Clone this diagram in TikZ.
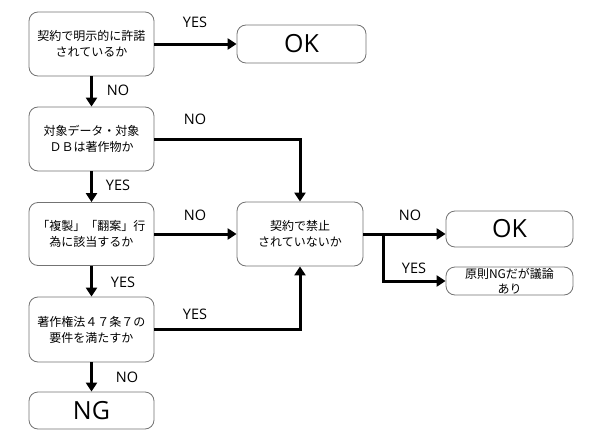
\documentclass[tikz,border=0pt]{standalone}
\usepackage{fontspec}
\setmainfont{Noto Sans CJK JP}
\newfontfamily\latinlab{Open Sans}
\usetikzlibrary{arrows.meta}
\begin{document}
\begin{tikzpicture}[x=1pt,y=-1pt,
  box/.style={draw=black!55, line width=0.8pt, rounded corners=9pt, fill=white, align=center, inner sep=0pt, font=\fontsize{12}{16}\selectfont},
  bigbox/.style={box, font=\latinlab\fontsize{25}{28}\selectfont},
  flow/.style={line width=3pt, -{Triangle[length=9pt,width=11pt]}},
  plain/.style={line width=3pt},
  lab/.style={font=\latinlab\fontsize{14.5}{16}\selectfont, inner sep=0pt}]
\useasboundingbox (0,0) rectangle (590,442);
\node[box, minimum width=125pt, minimum height=64pt] (b1) at (91.5,44) {契約で明示的に許諾\\されているか};
\node[bigbox, minimum width=129pt, minimum height=38pt] (ok1) at (301.5,44) {OK};
\node[box, minimum width=125pt, minimum height=64pt] (b2) at (91.5,139) {対象データ・対象\\ＤＢは著作物か};
\node[box, minimum width=125pt, minimum height=63pt] (b3) at (91.5,234) {「複製」「翻案」行\\為に該当するか};
\node[box, minimum width=126pt, minimum height=64pt] (c) at (300,234) {契約で禁止\\されていないか};
\node[box, minimum width=125pt, minimum height=65pt] (b4) at (91.5,329.5) {著作権法４７条７の\\要件を満たすか};
\node[bigbox, minimum width=125pt, minimum height=37pt] (ng) at (91.5,410.5) {NG};
\node[bigbox, minimum width=127pt, minimum height=36pt] (ok2) at (509.5,229) {OK};
\node[box, minimum width=127pt, minimum height=28pt, font=\fontsize{12}{15}\selectfont] (r) at (509.5,281) {原則NGだが議論\\あり};
\coordinate (j) at (383,234);
\draw[flow] (b1.east) -- (ok1.west);
\draw[flow] (b1.south) -- (b2.north);
\draw[flow] (b2.south) -- (b3.north);
\draw[flow] (b3.south) -- (b4.north);
\draw[flow] (b4.south) -- (ng.north);
\draw[flow] (b2.east) -| (c.north);
\draw[flow] (b3.east) -- (c.west);
\draw[flow] (b4.east) -| (c.south);
\draw[plain] (c.east) -- (j);
\draw[flow] (j) -- (ok2.west |- j);
\draw[flow] (j) |- (r.west);
\node[lab] (l1) at (195,22) {YES};
\node[lab] (l2) at (118,90) {NO};
\node[lab] (l3) at (195,119) {NO};
\node[lab] (l4) at (118,185) {YES};
\node[lab] (l5) at (195,215) {NO};
\node[lab] (l6) at (123,282) {YES};
\node[lab] (l7) at (195,314) {YES};
\node[lab] (l8) at (127,377) {NO};
\node[lab] (l9) at (410,215) {NO};
\node[lab] (l10) at (414,268) {YES};
\end{tikzpicture}
\end{document}
